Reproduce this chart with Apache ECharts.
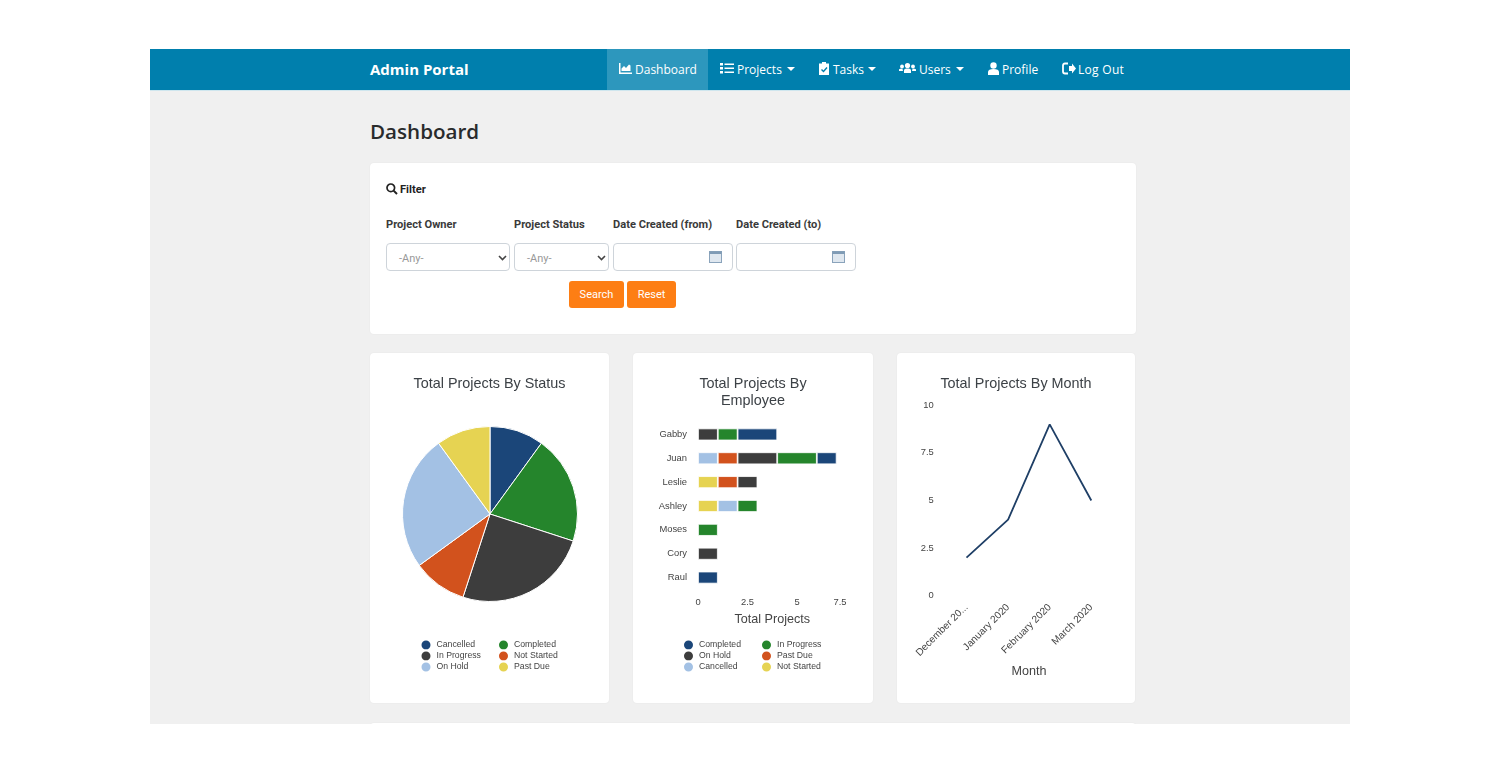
<!DOCTYPE html>
<html>
<head>
<meta charset="utf-8">
<title>Admin Portal</title>
<script src="https://cdn.jsdelivr.net/npm/echarts@6/dist/echarts.min.js"></script>
<style>
html, body { margin: 0; padding: 0; background: #fff; width: 1500px; height: 773px; overflow: hidden; }
body { font-family: "Open Sans", "Noto Sans", sans-serif; color: #292b2c; }
.page { position: absolute; left: 150px; top: 49px; width: 1200px; height: 675px; background: #f0f0f0; overflow: hidden; }
.nav { position: absolute; left: 0; top: 0; width: 1200px; height: 41px; background: #007fad; border-bottom: 1px solid #cfe6ee; }
.active { position: absolute; left: 457px; top: 0; width: 101px; height: 41px; background: #2d97bd; }
.abs { position: absolute; white-space: nowrap; }
.brand { left: 220px; top: 10px; font-size: 15px; line-height: 21px; font-weight: 700; color: #fff; }
.link { top: 10px; font-size: 12px; line-height: 21px; color: #fff; }
.caret { position: absolute; top: 18px; width: 0; height: 0; border-left: 4px solid transparent; border-right: 4px solid transparent; border-top: 4px solid #fff; }
.icon { position: absolute; top: 13px; }
h1 { position: absolute; left: 220px; top: 66px; margin: 0; font-size: 20.6px; line-height: 32px; font-weight: 600; color: #292b2c; }
.card { position: absolute; background: #fff; border-radius: 4px; box-shadow: 0 0 2px rgba(0,0,0,0.06); }
.chart { position: absolute; left: 0; top: 0; width: 100%; height: 100%; }
.form-label { font-family: Roboto, sans-serif; font-size: 11.1px; line-height: 14px; font-weight: 700; color: #3a3a3a; }
.field { position: absolute; top: 80px; height: 28px; box-sizing: border-box; border: 1px solid #ced4da; border-radius: 4px; background: #fff; }
.any { position: absolute; left: 12px; top: 8px; font-family: Roboto, sans-serif; font-size: 11px; line-height: 14px; color: #999; }
.btn { position: absolute; top: 118px; height: 27px; line-height: 27px; text-align: center; background: #fd7e14; color: #fff; border-radius: 3px; font-family: Roboto, sans-serif; font-size: 11px; }
</style>
</head>
<body>
<div class="page">
  <div class="nav">
    <div class="active"></div>
    <div class="abs brand">Admin Portal</div>

    <svg class="icon" style="left:469px" width="13" height="13" viewBox="0 0 13 13"><path d="M0 1h1.5v9.5H13V12H0z" fill="#fff"/><path d="M2.5 9V6.5L5 4l2 2 3-3.5 1.5 1V9z" fill="#fff"/></svg>
    <div class="abs link" style="left:485px">Dashboard</div>

    <svg class="icon" style="left:570px" width="14" height="13" viewBox="0 0 14 13"><path d="M0 1h3v2.4H0zM0 5h3v2.4H0zM0 9h3v2.4H0zM4.5 1.4H14v1.6H4.5zM4.5 5.4H14V7H4.5zM4.5 9.4H14V11H4.5z" fill="#fff"/></svg>
    <div class="abs link" style="left:587px">Projects</div>
    <div class="caret" style="left:637px"></div>

    <svg class="icon" style="left:668px" width="12" height="13" viewBox="0 0 12 13"><path d="M1 1.5h3V0h4v1.5h3V13H1z" fill="#fff"/><path d="M3.5 7.5l2 2 3.5-4" stroke="#007fad" stroke-width="1.4" fill="none"/></svg>
    <div class="abs link" style="left:683px">Tasks</div>
    <div class="caret" style="left:718px"></div>

    <svg class="icon" style="left:749px" width="17" height="13" viewBox="0 0 17 13"><circle cx="8.5" cy="3.5" r="2.6" fill="#fff"/><circle cx="3" cy="4.5" r="1.9" fill="#fff"/><circle cx="14" cy="4.5" r="1.9" fill="#fff"/><path d="M5 11V8.5C5 7 6.5 6.5 8.5 6.5S12 7 12 8.5V11zM0 9V7.5C0 6.8 1.5 6.5 3.5 6.8L4 9zM17 9V7.5C17 6.8 15.5 6.5 13.5 6.8L13 9z" fill="#fff"/></svg>
    <div class="abs link" style="left:769px">Users</div>
    <div class="caret" style="left:806px"></div>

    <svg class="icon" style="left:837px" width="13" height="14" viewBox="0 0 13 14"><circle cx="6.5" cy="3.5" r="3.2" fill="#fff"/><path d="M1 13V10C1 8 3 7 6.5 7S12 8 12 10V13z" fill="#fff"/></svg>
    <div class="abs link" style="left:852px">Profile</div>

    <svg class="icon" style="left:912px" width="14" height="13" viewBox="0 0 14 13"><path d="M6 1.5H3C1.5 1.5 1 2.5 1 3.5v6C1 10.5 1.5 11.5 3 11.5h3" stroke="#fff" stroke-width="1.8" fill="none"/><path d="M7 4h3V1.5L14 6.5l-4 5V9H7z" fill="#fff"/></svg>
    <div class="abs link" style="left:928px;letter-spacing:0.3px">Log Out</div>
  </div>

  <h1>Dashboard</h1>

  <div class="card" style="left:220px;top:114px;width:766px;height:171px">
    <svg class="abs" style="left:16px;top:20px" width="12" height="12" viewBox="0 0 12 12"><circle cx="4.8" cy="4.8" r="3.8" stroke="#222" stroke-width="1.7" fill="none"/><path d="M7.6 7.6L11 11" stroke="#222" stroke-width="2"/></svg>
    <div class="abs form-label" style="left:30px;top:20px;color:#222">Filter</div>
    <div class="abs form-label" style="left:16px;top:55px">Project Owner</div>
    <div class="abs form-label" style="left:144px;top:55px">Project Status</div>
    <div class="abs form-label" style="left:243px;top:55px">Date Created (from)</div>
    <div class="abs form-label" style="left:366px;top:55px">Date Created (to)</div>

    <div class="field" style="left:16px;width:124px"><div class="any">-Any-</div>
      <svg class="abs" style="left:111px;top:11px" width="9" height="6" viewBox="0 0 9 6"><path d="M1 1l3.5 3.5L8 1" stroke="#444" stroke-width="1.6" fill="none"/></svg></div>
    <div class="field" style="left:144px;width:95px"><div class="any">-Any-</div>
      <svg class="abs" style="left:82px;top:11px" width="9" height="6" viewBox="0 0 9 6"><path d="M1 1l3.5 3.5L8 1" stroke="#444" stroke-width="1.6" fill="none"/></svg></div>
    <div class="field" style="left:243px;width:120px">
      <svg class="abs" style="left:95px;top:7px" width="13" height="12" viewBox="0 0 13 12"><rect x="0.5" y="0.5" width="12" height="11" fill="#dfe7ef" stroke="#8aa3bb"/><rect x="0.5" y="0.5" width="12" height="2.5" fill="#7f9bb5"/></svg></div>
    <div class="field" style="left:366px;width:120px">
      <svg class="abs" style="left:95px;top:7px" width="13" height="12" viewBox="0 0 13 12"><rect x="0.5" y="0.5" width="12" height="11" fill="#dfe7ef" stroke="#8aa3bb"/><rect x="0.5" y="0.5" width="12" height="2.5" fill="#7f9bb5"/></svg></div>

    <div class="btn" style="left:199px;width:55px">Search</div>
    <div class="btn" style="left:257px;width:49px">Reset</div>
  </div>

  <div class="card" style="left:220px;top:304px;width:239px;height:350px"><div class="chart" id="statusChart"></div></div>
  <div class="card" style="left:483px;top:304px;width:240px;height:350px"><div class="chart" id="employeeChart"></div></div>
  <div class="card" style="left:747px;top:304px;width:238px;height:350px"><div class="chart" id="monthChart"></div></div>
  <div class="card" style="left:220px;top:674px;width:766px;height:40px"></div>
</div>

<script>
var statusNames = ['Cancelled', 'Completed', 'In Progress', 'Not Started', 'On Hold', 'Past Due'];
var statusValues = [2, 4, 5, 2, 5, 2];

var employees = ['Gabby', 'Juan', 'Leslie', 'Ashley', 'Moses', 'Cory', 'Raul'];
var notStarted = [0, 0, 1, 1, 0, 0, 0];
var cancelled = [0, 1, 0, 1, 0, 0, 0];
var pastDue = [0, 1, 1, 0, 0, 0, 0];
var onHold = [1, 2, 1, 0, 0, 1, 0];
var inProgress = [1, 2, 0, 1, 1, 0, 0];
var completed = [2, 1, 0, 0, 0, 0, 1];

var months = ['December 2019', 'January 2020', 'February 2020', 'March 2020'];
var monthTotals = [2, 4, 9, 5];

var BLUE = '#1b4679', GREEN = '#25852c', DARK = '#3d3d3d', ORANGE = '#d2521d', LIGHT = '#a3c1e4', YELLOW = '#e6d352';
var FONT = '"Liberation Sans", Arial, sans-serif';

function title(text) {
    return {
        text: text,
        left: 'center',
        top: 23,
        padding: [0, 0, 0, 0],
        textStyle: { fontFamily: FONT, fontSize: 14.4, fontWeight: 'normal', color: '#3c4146', lineHeight: 17 }
    };
}

// two columns of three rows, same in both cards
function legends(left1, left2, col1, col2) {
    return [col1, col2].map(function(names, i) {
        return {
            orient: 'vertical',
            left: i === 0 ? left1 : left2,
            top: 285.5,
            padding: 0,
            icon: 'circle',
            itemWidth: 11,
            itemHeight: 11,
            itemGap: -2,
            selectedMode: false,
            data: names,
            textStyle: { fontFamily: FONT, fontSize: 8.7, color: '#444' }
        };
    });
}

var statusChart = echarts.init(document.getElementById('statusChart'));
statusChart.setOption({
    animation: false,
    title: title('Total Projects By Status'),
    color: [BLUE, GREEN, DARK, ORANGE, LIGHT, YELLOW],
    legend: legends(49.5, 127, ['Cancelled', 'In Progress', 'On Hold'], ['Completed', 'Not Started', 'Past Due']),
    series: [{
        type: 'pie',
        center: [120, 161],
        radius: [0, 87.5],
        startAngle: 90,
        label: { show: false },
        labelLine: { show: false },
        itemStyle: { borderColor: '#fff', borderWidth: 1 },
        data: statusNames.map(function(name, i) {
            return { name: name, value: statusValues[i] };
        })
    }]
});

function stack(name, data, color) {
    return {
        name: name,
        type: 'bar',
        stack: 'total',
        barWidth: 12,
        data: data.map(function(v) { return v === 0 ? null : v; }),
        itemStyle: { color: color, borderColor: '#fff', borderWidth: 0.8 }
    };
}

var employeeChart = echarts.init(document.getElementById('employeeChart'));
employeeChart.setOption({
    animation: false,
    title: title('Total Projects By\nEmployee'),
    color: [YELLOW, LIGHT, ORANGE, DARK, GREEN, BLUE],
    legend: legends(49, 127, ['Completed', 'On Hold', 'Cancelled'], ['In Progress', 'Past Due', 'Not Started']),
    grid: { left: 65, top: 69.5, width: 148.5, height: 167 },
    xAxis: {
        type: 'value',
        min: 0,
        max: 7.5,
        interval: 2.5,
        name: 'Total Projects',
        nameLocation: 'middle',
        nameGap: 24,
        nameTextStyle: { fontFamily: FONT, fontSize: 12.6, color: '#444' },
        axisLine: { show: false },
        axisTick: { show: false },
        splitLine: { show: false },
        axisLabel: { fontFamily: FONT, fontSize: 9.4, color: '#444', margin: 8, alignMaxLabel: 'right' }
    },
    yAxis: {
        type: 'category',
        inverse: true,
        data: employees,
        axisLine: { show: false },
        axisTick: { show: false },
        axisLabel: { fontFamily: FONT, fontSize: 9.4, color: '#444', margin: 11 }
    },
    series: [
        stack('Not Started', notStarted, YELLOW),
        stack('Cancelled', cancelled, LIGHT),
        stack('Past Due', pastDue, ORANGE),
        stack('On Hold', onHold, DARK),
        stack('In Progress', inProgress, GREEN),
        stack('Completed', completed, BLUE)
    ]
});

var monthChart = echarts.init(document.getElementById('monthChart'));
monthChart.setOption({
    animation: false,
    title: title('Total Projects By Month'),
    grid: { left: 48.7, top: 52.3, width: 166.4, height: 190.4 },
    xAxis: {
        type: 'category',
        data: months,
        name: 'Month',
        nameLocation: 'middle',
        nameGap: 68,
        nameTextStyle: { fontFamily: FONT, fontSize: 12.6, color: '#444' },
        axisLine: { show: false },
        axisTick: { show: false },
        axisLabel: {
            interval: 0,
            rotate: 45,
            fontFamily: FONT,
            fontSize: 10.1,
            color: '#444',
            margin: 10,
            width: 70.5,
            overflow: 'truncate',
            ellipsis: '...'
        }
    },
    yAxis: {
        type: 'value',
        min: 0,
        max: 10,
        interval: 2.5,
        axisLine: { show: false },
        axisTick: { show: false },
        splitLine: { show: false },
        axisLabel: { fontFamily: FONT, fontSize: 9.4, color: '#444', margin: 12, padding: [2, 0, 0, 0] }
    },
    series: [{
        type: 'line',
        data: monthTotals,
        showSymbol: false,
        lineStyle: { color: '#1f3f66', width: 1.8 }
    }]
});
</script>
</body>
</html>
